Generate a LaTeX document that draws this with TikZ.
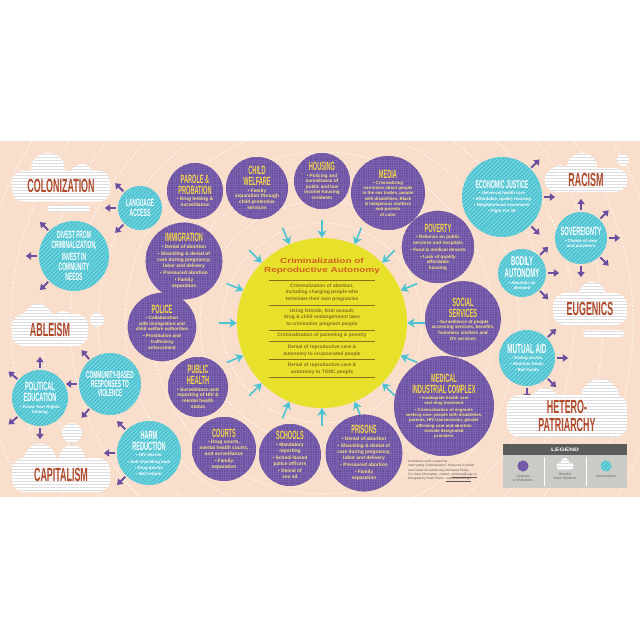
\documentclass[tikz,border=0pt]{standalone}
\usepackage{fontspec}
\setmainfont{Liberation Sans}
\newfontfamily\condfont[FakeStretch=0.47]{Liberation Sans}
\newfontfamily\widefont[FakeStretch=1.35]{Liberation Sans}
\usepackage{tikz}
\usetikzlibrary{arrows.meta,positioning,calc,patterns.meta}
\definecolor{ciPeach}{HTML}{F8DECB}
\definecolor{ciPurple}{HTML}{6A4E9F}
\definecolor{ciGrid}{HTML}{7A61AE}
\definecolor{ciGold}{HTML}{F4D64A}
\definecolor{ciPale}{HTML}{F5E385}
\definecolor{ciCyan}{HTML}{4CC3D1}
\definecolor{ciStripe}{HTML}{84D8E2}
\definecolor{ciRust}{HTML}{B04A2A}
\definecolor{ciSun}{HTML}{E8E12C}
\definecolor{ciOlive}{HTML}{85701E}
\definecolor{ciOrange}{HTML}{CF6220}
\definecolor{ciCloudLine}{HTML}{D9D9DC}
\definecolor{ciLegendDark}{HTML}{5B5B59}
\definecolor{ciLegendGrey}{HTML}{CBCBC7}
\pgfdeclarelayer{back}
\pgfdeclarelayer{mid}
\pgfsetlayers{back,mid,main}
\newcommand\systitle[2][17]{{\condfont\bfseries\fontsize{#1}{#1}\selectfont\color{ciGold}#2}}
\newcommand\fixtitle[2][16]{{\condfont\bfseries\fontsize{#1}{#1}\selectfont #2}}
\newcommand\crimrule{\rule{53mm}{0.25mm}}

\begin{document}
\begin{tikzpicture}[
  x=0.5mm, y=-0.5mm,
  every node/.style={align=center, inner sep=0pt},
  sys/.style={circle, fill=ciPurple, text=ciPale,
    postaction={pattern={Lines[angle=0,distance=1.2mm,line width=0.12mm]},pattern color=ciGrid},
    postaction={pattern={Lines[angle=90,distance=1.2mm,line width=0.12mm]},pattern color=ciGrid},
    font=\bfseries\fontsize{6.9}{8.3}\selectfont},
  fix/.style={circle, fill=ciCyan, text=white,
    postaction={pattern={Lines[angle=45,distance=1.4mm,line width=0.4mm]},pattern color=ciStripe},
    font=\bfseries\fontsize{6.1}{7.6}\selectfont},
  puff/.style={fill=white, postaction={pattern={Lines[angle=0,distance=1.5mm,line width=0.45mm]},pattern color=ciCloudLine}},
  hvs/.style={puff, rounded corners=6mm, text=ciRust, font=\condfont\bfseries\fontsize{27}{26}\selectfont},
  sun/.style={circle, fill=ciSun},
  spike/.style={ciCyan, line width=0.8mm, -{Stealth[length=3.8mm,width=4.6mm,inset=1.2mm]}},
  reach/.style={ciPurple, line width=1mm, shorten <=0.7mm, -{Triangle[length=2.6mm,width=3.6mm]}},
  ring/.style={white, line width=0.3mm, dash pattern=on 1.1mm off 0.9mm},
  legtext/.style={text=black!60, font=\fontsize{5}{6}\selectfont},
]
  \useasboundingbox (0,0) rectangle (640,640);
  \begin{pgfonlayer}{back}
    \fill[white] (0,0) rectangle (640,640);
    \fill[ciPeach] (0,141) rectangle (640,497);
  \end{pgfonlayer}

  % centre
  \node[sun, minimum size=85mm] (sun) at (322,323) {};
  \node[text=ciOrange, font=\widefont\bfseries\fontsize{10.5}{12}\selectfont] (crimhead) at (322,266) {Criminalization of\\Reproductive Autonomy};
  \node[below=3mm of crimhead, text=ciOlive, font=\bfseries\fontsize{7}{9.6}\selectfont] (crimlist) {\crimrule\\
    Criminalization of abortion,\\including charging people who\\terminate their own pregnacies\\[-3pt]
    \crimrule\\
    Using feticide, fetal assault,\\drug \& child endangerment laws\\to criminalize pregnant people\\[-3pt]
    \crimrule\\
    Criminalization of parenting \& poverty\\[-3pt]
    \crimrule\\
    Denial of reproductive care \&\\autonomy to incarcerated people\\[-3pt]
    \crimrule\\
    Denial of reproductive care \&\\autonomy to TGNC people\\[-3pt]
    \crimrule};
  \foreach \ang in {0,22.5,...,337.5}
    \draw[spike] ($(sun.center)!1.21!\ang:(sun.east)$) -- ($(sun.center)!1!\ang:(sun.east)$);

  \begin{pgfonlayer}{back}
    \begin{scope}
      \clip (0,141) rectangle (640,497);
      \foreach \rad in {50,61,73,85.5,98.5,112,126,140.5,155.5,171,187,203.5,220.5}
        \draw[ring] (sun.center) circle[radius=\rad mm];
    \end{scope}
  \end{pgfonlayer}

  % systems and institutions
  \node[sys, minimum size=28mm] (parole) at (195,191) {\systitle{PAROLE \&}\\[2.5pt]\systitle{PROBATION}\\[1pt]
    • Drug testing \&\\surveillance};
  \node[sys, minimum size=31mm] (child) at (257,188) {\systitle{CHILD}\\[2.5pt]\systitle{WELFARE}\\[1pt]
    • Family\\separation through\\child protective\\services};
  \node[sys, minimum size=28mm, font=\bfseries\fontsize{6.6}{8}\selectfont] (housing) at (322,181) {\systitle{HOUSING}\\[1pt]
    • Policing and\\surveillance of\\public and low\\income housing\\residents};
  \node[sys, minimum size=37mm, font=\bfseries\fontsize{6.2}{7.5}\selectfont] (media) at (388,193) {\systitle{MEDIA}\\[1.5pt]
    • Criminalizing\\narratives about people\\in the sex trades, people\\with disabilities, Black\\\& Indigenous mothers\\and parents\\of color};
  \node[sys, minimum size=37mm] (immig) at (184,261) {\systitle{IMMIGRATION}\\[1pt]
    • Denial of abortion\\[2pt]
    • Shackling \& denial of\\care during pregnancy,\\labor and delivery\\[2pt]
    • Pressured abortion\\[2pt]
    • Family\\separation};
  \node[sys, minimum size=34mm, font=\bfseries\fontsize{6.5}{8}\selectfont] (police) at (162,327) {\systitle{POLICE}\\[1pt]
    • Collaboration\\with immigration and\\child welfare authorities\\[2pt]
    • Prostitution and\\trafficking\\enforcement};
  \node[sys, minimum size=30mm] (health) at (198,387) {\systitle{PUBLIC}\\[2.5pt]\systitle{HEALTH}\\[1pt]
    • Surveillance and\\reporting of HIV \&\\mental health\\status};
  \node[sys, minimum size=32mm] (courts) at (224,449) {\systitle{COURTS}\\[1pt]
    • Drug courts,\\mental health courts,\\and surveillance\\[2pt]
    • Family\\separation};
  \node[sys, minimum size=31mm] (schools) at (290,455) {\systitle{SCHOOLS}\\[1pt]
    • Mandatory\\reporting\\[2pt]
    • School-based\\police officers\\[2pt]
    • Denial of\\sex ed};
  \node[sys, minimum size=38mm] (prisons) at (364,453) {\systitle{PRISONS}\\[1pt]
    • Denial of abortion\\[2pt]
    • Shackling \& denial of\\care during pregnancy,\\labor and delivery\\[2pt]
    • Pressured abortion\\[2pt]
    • Family\\separation};
  \node[sys, minimum size=48mm, font=\bfseries\fontsize{6.1}{7.4}\selectfont] (medical) at (444,406) {\systitle{MEDICAL}\\[3pt]\systitle{INDUSTRIAL COMPLEX}\\[1.5pt]
    • Inadequate health care\\and drug treatment\\[2pt]
    • Criminalization of migrants\\seeking care, people with disabilities,\\parents, HIV transmission, gender\\affirming care and abortion\\outside designated\\providers};
  \node[sys, minimum size=37mm, font=\bfseries\fontsize{6.5}{8}\selectfont] (social) at (463,319) {\systitle{SOCIAL}\\[2.5pt]\systitle{SERVICES}\\[1pt]
    • Surveillance of people\\accessing services, benefits,\\homeless shelters and\\DV services};
  \node[sys, minimum size=33mm, font=\bfseries\fontsize{6.6}{8}\selectfont] (poverty) at (438,247) {\systitle{POVERTY}\\[1pt]
    • Reliance on public\\services and hospitals\\[2pt]
    • Food \& medical deserts\\[2pt]
    • Lack of quality\\affordable\\housing};

  % interventions
  \node[fix, minimum size=22mm] (lang) at (140,208) {\fixtitle[15]{LANGUAGE}\\[2pt]\fixtitle[15]{ACCESS}};
  \node[fix, minimum size=35mm] (divest) at (74,256) {\fixtitle[15]{DIVEST FROM}\\[3pt]\fixtitle[15]{CRIMINALIZATION,}\\[3pt]\fixtitle[15]{INVEST IN}\\[3pt]\fixtitle[15]{COMMUNITY}\\[3pt]\fixtitle[15]{NEEDS}};
  \node[fix, minimum size=31mm] (comm) at (110,384) {\fixtitle[14.5]{COMMUNITY-BASED}\\[2pt]\fixtitle[14.5]{RESPONSES TO}\\[2pt]\fixtitle[14.5]{VIOLENCE}};
  \node[fix, minimum size=28mm] (polied) at (40,398) {\fixtitle[17]{POLITICAL}\\[3pt]\fixtitle[17]{EDUCATION}\\[2pt]
    • Know Your Rights\\training};
  \node[fix, minimum size=32mm] (harm) at (149,453) {\fixtitle[17]{HARM}\\[3pt]\fixtitle[17]{REDUCTION}\\[2pt]
    • HIV decrim\\[1pt] • Anti-shackling laws\\[1pt] • Drug decrim\\[1pt] • Bail reform};
  \node[fix, minimum size=40mm] (econ) at (502,197) {\fixtitle{ECONOMIC JUSTICE}\\[2pt]
    • Universal health care\\[1pt] • Affordable, quality housing\\[1pt] • Neighborhood investment\\[1pt] • Fight For 15};
  \node[fix, minimum size=26mm] (sov) at (581,238) {\fixtitle[17]{SOVEREIGNTY}\\[2pt]
    • Choice of care\\and providers};
  \node[fix, minimum size=24mm] (bodily) at (522,273) {\fixtitle[18]{BODILY}\\[3.5pt]\fixtitle[18]{AUTONOMY}\\[2pt]
    • Abortion on\\demand};
  \node[fix, minimum size=28mm] (mutual) at (527,358) {\fixtitle[19]{MUTUAL AID}\\[2pt]
    • Giving circles\\[1pt] • Abortion funds\\[1pt] • Bail funds};

  \foreach \n/\dirs in {lang/{135,180,225}, divest/{135,180,225}, polied/{90,140,220,270},
      comm/{130,180,230}, harm/{135,180,225}, econ/{45,0,315}, sov/{90,45,0,315,270},
      bodily/{45,0,315}, mutual/{45,0,315,270}}
    \foreach \ang in \dirs
      \draw[reach] (\n.\ang) -- ++(\ang:6.5mm);

  % harmful value systems
  \node[hvs, minimum width=49mm, minimum height=15.5mm] (colon) at (61,186) {COLONIZATION};
  \node[hvs, minimum width=38mm, minimum height=16mm] (ableism) at (50,330) {ABLEISM};
  \node[hvs, minimum width=49mm, minimum height=17mm] (capital) at (61,475) {CAPITALISM};
  \node[hvs, minimum width=41.5mm, minimum height=12mm] (racism) at (586,180) {RACISM};
  \node[hvs, minimum width=37mm, minimum height=16mm] (eugenics) at (590,309) {EUGENICS};
  \node[hvs, minimum width=60mm, minimum height=21mm] (hetero) at (567,416) {HETERO-\\PATRIARCHY};
  \begin{pgfonlayer}{mid}
    \fill[puff] (48,170) circle[radius=8.5mm] (82,175) circle[radius=5.5mm];
    \fill[puff, rounded corners=1.7mm] (47,205) rectangle (90,212);
    \fill[puff] (38,318) circle[radius=7mm] (63,321) circle[radius=5mm] (97,320) circle[radius=3.5mm];
    \fill[puff] (40,460) circle[radius=8mm] (72,458) circle[radius=6.5mm] (72,433) circle[radius=5mm];
    \fill[puff] (582,168) circle[radius=7.5mm] (560,174) circle[radius=4.5mm] (623,160) circle[radius=3mm];
    \fill[puff] (592,296) circle[radius=7mm] (568,301) circle[radius=4.5mm];
    \fill[puff, rounded corners=1.7mm] (583,330) rectangle (624,337);
    \fill[puff] (600,398) circle[radius=9.5mm] (545,402) circle[radius=7mm];
  \end{pgfonlayer}

  % legend
  \node[fill=ciLegendDark, minimum width=62mm, minimum height=5.5mm, text=white,
    font=\widefont\bfseries\fontsize{7}{7}\selectfont] (leghead) at (565,449.5) {LEGEND};
  \node[fill=ciLegendGrey, minimum width=62mm, minimum height=16.5mm, below=0pt of leghead] (legbody) {};
  \foreach \dx in {-10.5,10.5}
    \draw[white, line width=0.35mm] ([xshift=\dx mm, yshift=-1mm]legbody.north) -- ([xshift=\dx mm, yshift=1mm]legbody.south);
  \node[sys, minimum size=5.5mm] (legsys) at (523,466) {};
  \node[fix, minimum size=5.5mm] (legfix) at (606,466) {};
  \fill[puff] (565,462) circle[radius=2mm];
  \node[puff, rounded corners=1.6mm, minimum width=8.5mm, minimum height=3.6mm] (legcloud) at (565,466) {};
  \node[legtext, below=1.6mm of legsys] (legsystext) {Systems\\\& Institutions};
  \node[legtext, below=1.6mm of legcloud] (legcloudtext) {Harmful\\Value Systems};
  \node[legtext, below=1.6mm of legfix] (legfixtext) {Interventions};

  % credits
  \node[anchor=north west, align=left, text=black!65, font=\fontsize{4.5}{6.2}\selectfont] (credits) at (408,460) {Crowdsourced \& created by:\\
    \textit{Interrupting Criminalization: Research in Action}\\
    \textit{and Center for Advancing Innovative Policy.}\\
    For more information, contact: \underline{veronica@caip.us}\\
    Designed by Noah Foster: \underline{noahfoster.design}};
\end{tikzpicture}
\end{document}
